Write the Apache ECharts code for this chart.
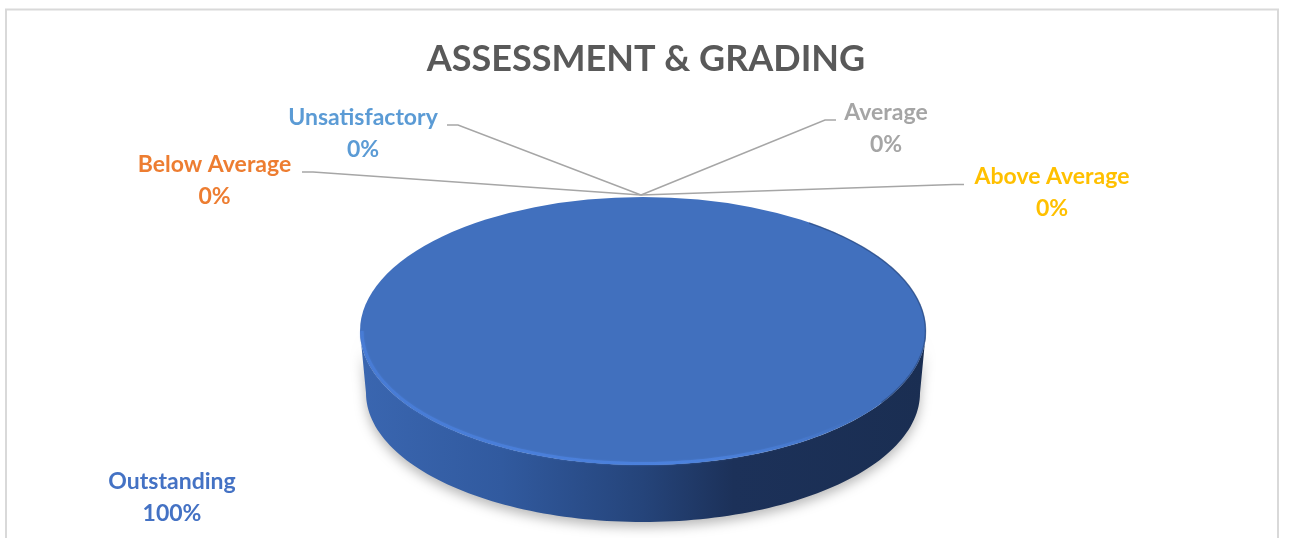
<!DOCTYPE html>
<html>
<head>
<meta charset="utf-8">
<title>Assessment &amp; Grading</title>
<script src="https://cdn.jsdelivr.net/npm/echarts@6/dist/echarts.min.js"></script>
<style>
  html, body { margin: 0; padding: 0; background: #fff; }
  #chart { width: 1291px; height: 538px; }
</style>
</head>
<body>
<div id="chart"></div>
<script>
const categories = ['Outstanding', 'Below Average', 'Average', 'Above Average', 'Unsatisfactory']
const gradeValues = [100, 0, 0, 0, 0]
const gradeColors = ['#4472C4', '#ED7D31', '#A5A5A5', '#FFC000', '#5B9BD5']

// label centre + the elbow of its leader line, one row per category
const labelBoxes = [
  { x: 172, y: 498 },
  { x: 214.5, y: 181, lineFrom: [302, 172], elbow: [313, 172] },
  { x: 886, y: 129, lineFrom: [836, 120], elbow: [825, 120] },
  { x: 1052, y: 193, lineFrom: [964, 184.5], elbow: [954, 184.5] },
  { x: 363, y: 134, lineFrom: [447, 125], elbow: [458, 125] },
]

const FONT = 'Lato, "Open Sans", sans-serif'
const top3d = { cx: 643, cy: 331, rx: 283, ry: 134 }
const base3d = { cx: 643, cy: 393, rx: 277, ry: 129 }
const hub = [641, 195]
const total = gradeValues.reduce((a, b) => a + b, 0)

function ellipsePoint(e, theta) {
  return [e.cx + e.rx * Math.sin(theta), e.cy - e.ry * Math.cos(theta)]
}

function arcPoints(e, from, to) {
  const pts = []
  const steps = 120
  for (let i = 0; i <= steps; i++) {
    pts.push(ellipsePoint(e, from + (to - from) * i / steps))
  }
  return pts
}

function renderSlice(params, api) {
  const i = params.dataIndex
  const value = api.value(0)
  const before = gradeValues.slice(0, i).reduce((a, b) => a + b, 0)
  const start = before / total * Math.PI * 2
  const end = (before + value) / total * Math.PI * 2
  const box = labelBoxes[i]
  const children = []

  if (value > 0) {
    // the visible wall is the part of the slice on the front half of the disc
    const wallFrom = Math.max(start, Math.PI / 2)
    const wallTo = Math.min(end, Math.PI * 3 / 2)
    if (wallTo > wallFrom) {
      const wall = arcPoints(top3d, wallFrom, wallTo).concat(arcPoints(base3d, wallTo, wallFrom))
      children.push({
        type: 'polygon',
        shape: { points: wall },
        style: {
          fill: new echarts.graphic.LinearGradient(0, 0, 1, 0, [
            { offset: 0, color: '#3A66B0' },
            { offset: 0.25, color: '#315A9F' },
            { offset: 0.5, color: '#25447A' },
            { offset: 0.66, color: '#1C3159' },
            { offset: 1, color: '#1A2E52' },
          ]),
          shadowBlur: 12,
          shadowColor: 'rgba(0,0,0,0.28)',
          shadowOffsetY: 5,
        },
      })
    }
    children.push({
      type: 'sector',
      x: top3d.cx,
      y: top3d.cy,
      scaleY: top3d.ry / top3d.rx,
      shape: {
        cx: 0,
        cy: 0,
        r0: 0,
        r: top3d.rx,
        startAngle: start - Math.PI / 2,
        endAngle: end - Math.PI / 2,
        clockwise: true,
      },
      style: { fill: '#4170BE' },
    })
    // bevel highlight along the front left rim
    children.push({
      type: 'polyline',
      shape: { points: arcPoints({ cx: top3d.cx, cy: top3d.cy, rx: top3d.rx - 2, ry: top3d.ry - 1.5 }, Math.PI * 1.5, Math.PI * 0.72) },
      style: {
        fill: null,
        lineWidth: 3,
        stroke: new echarts.graphic.LinearGradient(0, 0, 1, 0, [
          { offset: 0, color: 'rgba(72,124,214,0.9)' },
          { offset: 0.65, color: 'rgba(76,130,222,0.95)' },
          { offset: 1, color: 'rgba(76,130,222,0)' },
        ]),
        shadowBlur: 2,
        shadowColor: 'rgba(76,130,222,0.6)',
      },
    })
    // soft dark edge on the back right rim
    children.push({
      type: 'polyline',
      shape: { points: arcPoints({ cx: top3d.cx, cy: top3d.cy, rx: top3d.rx - 0.5, ry: top3d.ry - 0.5 }, Math.PI * 0.2, Math.PI * 0.68) },
      style: { fill: null, lineWidth: 1.5, stroke: 'rgba(30,55,100,0.45)' },
    })
  }

  if (box.elbow) {
    children.push({
      type: 'polyline',
      shape: { points: [box.lineFrom, box.elbow, hub] },
      style: { fill: null, stroke: '#A6A6A6', lineWidth: 1.5 },
    })
  }
  children.push({
    type: 'text',
    style: {
      x: box.x,
      y: box.y,
      text: categories[i] + '\n' + Math.round(value / total * 100) + '%',
      fill: gradeColors[i],
      font: 'bold 23px ' + FONT,
      lineHeight: 32,
      align: 'center',
      verticalAlign: 'middle',
    },
  })
  return { type: 'group', children }
}

const chart = echarts.init(document.getElementById('chart'), null, { renderer: 'canvas' })
chart.setOption({
  animation: false,
  backgroundColor: '#fff',
  title: {
    text: 'ASSESSMENT & GRADING',
    left: 641,
    top: 36,
    textAlign: 'center',
    textStyle: { color: '#595959', fontSize: 36, fontWeight: 'bold', fontFamily: FONT },
  },
  graphic: [{
    type: 'rect',
    silent: true,
    z: 0,
    shape: { x: 6, y: 9.5, width: 1272, height: 560 },
    style: { fill: 'none', stroke: '#D9D9D9', lineWidth: 2 },
  }],
  series: [{
    type: 'custom',
    coordinateSystem: 'none',
    silent: true,
    renderItem: renderSlice,
    // biggest slice last would hide nothing here, all leaders stay above the disc
    data: gradeValues.map(v => [v]),
  }],
})
</script>
</body>
</html>
